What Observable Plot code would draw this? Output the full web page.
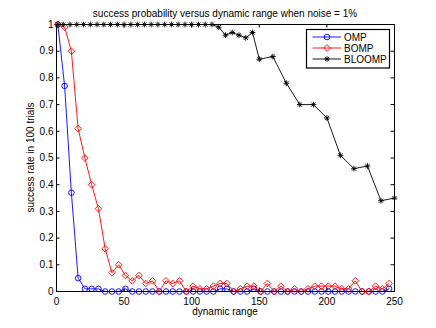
<!DOCTYPE html>
<html><head><meta charset="utf-8">
<script src="https://cdn.jsdelivr.net/npm/d3@7"></script>
<script src="https://cdn.jsdelivr.net/npm/@observablehq/plot@0.6"></script>
<style>html,body{margin:0;padding:0;background:#fff}#chart svg{display:block}</style>
</head><body><div id="chart"></div>
<script>
const title = "success probability versus dynamic range when noise = 1%";
const xLabel = "dynamic range";
const yLabel = "success rate in 100 trials";
const seriesNames = ["OMP", "BOMP", "BLOOMP"];
const seriesColors = ["#0000ff", "#ff0000", "#000000"];
const xTicks = [0, 50, 100, 150, 200, 250];
const yTicks = [0, 0.1, 0.2, 0.3, 0.4, 0.5, 0.6, 0.7, 0.8, 0.9, 1];

const trialX = [1, 6, 11, 16, 21, 26, 31, 36, 41, 46, 51, 56, 61, 66, 71, 76, 81, 86, 91, 96,
  101, 106, 111, 116, 121, 126, 131, 136, 141, 146, 151, 156, 161, 166, 171, 176, 181, 186, 191, 196,
  201, 206, 211, 216, 221, 226, 231, 236, 241, 246];
const ompRate = [1, 0.77, 0.37, 0.05, 0.01, 0.01, 0.01, 0, 0, 0,
  0.01, 0, 0, 0, 0, 0, 0, 0, 0, 0,
  0, 0, 0, 0, 0.01, 0.01, 0, 0, 0, 0.01,
  0, 0, 0, 0, 0, 0, 0, 0, 0, 0,
  0, 0, 0, 0, 0, 0, 0, 0, 0, 0.01];
const bompRate = [1, 0.99, 0.90, 0.61, 0.50, 0.40, 0.31, 0.16, 0.07, 0.10,
  0.06, 0.04, 0.06, 0.03, 0.04, 0, 0.04, 0.03, 0.04, 0,
  0.02, 0.01, 0.01, 0.02, 0.03, 0.03, 0, 0.01, 0.02, 0.02,
  0, 0.03, 0, 0.02, 0, 0.01, 0, 0.01, 0.02, 0.02,
  0.02, 0.02, 0.01, 0.01, 0.04, 0, 0, 0.02, 0.01, 0.03];
const bloompX = [1, 5, 10, 15, 20, 25, 30, 35, 40, 45, 50, 55, 60, 65, 70, 75, 80, 85, 90, 95,
  100, 105, 110, 115, 120, 125, 130, 135, 140, 145, 150, 160, 170, 180, 190, 200, 210, 220, 230, 240, 250];
const bloompRate = [1, 1, 1, 1, 1, 1, 1, 1, 1, 1, 1, 1, 1, 1, 1, 1, 1, 1, 1, 1,
  1, 1, 1, 1, 0.99, 0.96, 0.97, 0.96, 0.95, 0.97, 0.87, 0.88, 0.78, 0.70, 0.70, 0.65, 0.51, 0.46, 0.47, 0.34, 0.35];

const W = 436, H = 328, mL = 56, mR = 42, mT = 24, mB = 37;
const frameW = W - mL - mR, frameH = H - mT - mB;
const tickLen = 3.5;
const font = "'Liberation Sans', Arial, Helvetica, sans-serif";

const omp = trialX.map((x, i) => ({x, y: ompRate[i]}));
const bomp = trialX.map((x, i) => ({x, y: bompRate[i]}));
const bloomp = bloompX.map((x, i) => ({x, y: bloompRate[i]}));

const rCircle = 2.8, rDiamond = 3.0, rStar = 2.0;

const chart = Plot.plot({
  width: W, height: H,
  marginLeft: mL, marginRight: mR, marginTop: mT, marginBottom: mB,
  style: {fontFamily: font, fontSize: "10px", background: "white", color: "black"},
  x: {domain: [0, 250]},
  y: {domain: [0, 1]},
  marks: [
    Plot.line(omp, {x: "x", y: "y", stroke: seriesColors[0], strokeWidth: 0.9}),
    Plot.dot(omp, {x: "x", y: "y", symbol: "circle", r: rCircle, stroke: seriesColors[0], fill: "none", strokeWidth: 0.9}),
    Plot.line(bomp, {x: "x", y: "y", stroke: seriesColors[1], strokeWidth: 0.9}),
    Plot.dot(bomp, {x: "x", y: "y", symbol: "diamond2", r: rDiamond, stroke: seriesColors[1], fill: "none", strokeWidth: 0.9}),
    Plot.line(bloomp, {x: "x", y: "y", stroke: seriesColors[2], strokeWidth: 0.9}),
    Plot.dot(bloomp, {x: "x", y: "y", symbol: "plus", r: rStar, stroke: seriesColors[2], strokeWidth: 0.9}),
    Plot.dot(bloomp, {x: "x", y: "y", symbol: "times", r: rStar, stroke: seriesColors[2], strokeWidth: 0.9}),
    Plot.tickY(yTicks, {insetRight: frameW - tickLen, stroke: "black"}),
    Plot.tickY(yTicks, {insetLeft: frameW - tickLen, stroke: "black"}),
    Plot.tickX(xTicks, {insetTop: frameH - tickLen, stroke: "black"}),
    Plot.tickX(xTicks, {insetBottom: frameH - tickLen, stroke: "black"}),
    Plot.frame({stroke: "black", strokeWidth: 1}),
    Plot.axisX(xTicks, {tickSize: 0, tickPadding: 6, label: null, tickFormat: d => String(d)}),
    Plot.axisY(yTicks, {tickSize: 0, tickPadding: 3, label: null, tickFormat: d => String(d)})
  ]
});

const svg = d3.select(chart);
svg.append("text").attr("x", mL + frameW / 2).attr("y", 17)
  .attr("text-anchor", "middle").attr("font-size", 10).attr("font-family", font).attr("fill", "black").text(title);
svg.append("text").attr("x", mL + frameW / 2).attr("y", 314.5)
  .attr("text-anchor", "middle").attr("font-size", 10).attr("font-family", font).attr("fill", "black").text(xLabel);
svg.append("text").attr("transform", `translate(34.3,${mT + frameH / 2}) rotate(-90)`)
  .attr("text-anchor", "middle").attr("font-size", 10).attr("font-family", font).attr("fill", "black").text(yLabel);

// legend
const lg = svg.append("g").attr("font-family", font).attr("font-size", 10).attr("text-anchor", "start");
lg.append("rect").attr("x", 306.5).attr("y", 29.5).attr("width", 83).attr("height", 38.5)
  .attr("fill", "white").attr("stroke", "black").attr("stroke-width", 1.2);
const symTypes = [[d3.symbolCircle, rCircle], [d3.symbolDiamond2, rDiamond], [d3.symbolPlus, rStar]];
seriesNames.forEach((name, i) => {
  const yy = 37 + i * 11;
  lg.append("line").attr("x1", 312.5).attr("x2", 341).attr("y1", yy).attr("y2", yy)
    .attr("stroke", seriesColors[i]).attr("stroke-width", 0.9);
  const [t, r] = symTypes[i];
  lg.append("path").attr("transform", `translate(327,${yy})`)
    .attr("d", d3.symbol(t, Math.PI * r * r)()).attr("fill", "none").attr("stroke", seriesColors[i]).attr("stroke-width", 0.9);
  if (i === 2) {
    lg.append("path").attr("transform", `translate(327,${yy})`)
      .attr("d", d3.symbol(d3.symbolTimes, Math.PI * r * r)()).attr("fill", "none").attr("stroke", seriesColors[i]).attr("stroke-width", 0.9);
  }
  lg.append("text").attr("x", 344).attr("y", yy + 3.6).attr("text-anchor", "start").attr("fill", "black").text(name);
});

document.getElementById("chart").appendChild(chart);
</script>
</body></html>
